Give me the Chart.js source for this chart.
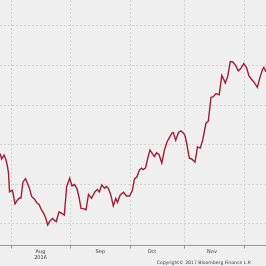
<!DOCTYPE html>
<html>
<head>
<meta charset="utf-8">
<script src="https://cdn.jsdelivr.net/npm/chart.js@4/dist/chart.umd.min.js"></script>
<style>
  html, body { margin: 0; padding: 0; background: #f0f0f0; }
  #wrap { width: 266px; height: 266px; }
</style>
</head>
<body>
<div id="wrap"><canvas id="priceChart" width="266" height="266"></canvas></div>
<script>
// session position along the time axis (chart units) and closing level
const t = [0, 1.7, 4, 6, 7.3, 8.5, 9.5, 11, 12.5, 15, 17.5, 19.5, 21, 23, 25.5, 27.3, 29.3, 31.7, 34.3, 37,
  39, 41.5, 44, 46, 47.7, 50, 52.5, 54.5, 56.3, 59, 61.7, 64.3, 66.7, 69.7, 72, 74.5, 77, 79, 81, 84.3,
  86, 88.5, 91.5, 95, 97.3, 99.3, 101.8, 104.5, 106.5, 108.3, 110.7, 113.3, 115.8, 117.5, 120.2, 123.5, 126.5, 129.5, 132.3, 134.5,
  137, 139.5, 141.5, 143, 145.5, 147.8, 150, 152.5, 154.5, 156.5, 159, 161.8, 164.5, 167, 169, 171.8, 173.3, 175.7, 178.5, 181,
  183.3, 185, 186.7, 189.3, 191.7, 195, 197.5, 200.3, 202.7, 206, 208.3, 211, 213.3, 216, 219.2, 221.8, 223.7, 225.3, 227.7, 230.3,
  232.8, 235.5, 238.3, 240.6, 243.8, 246.5, 249, 251.5, 254.7, 257.3, 260, 262.5, 263.8, 266];
const values = [103.56, 103.28, 103.48, 103.23, 102.95, 102.58, 101.62, 101.67, 101.69, 101.01, 101.21, 101.31, 101.31, 102.12, 102.29, 102.07, 101.82, 101.39, 101.26, 101.06,
  100.98, 100.71, 100.51, 100.25, 99.95, 100.15, 100.28, 100.18, 100.12, 100.61, 100.53, 100.45, 101.89, 102.31, 101.92, 101.99, 101.77, 101.36, 100.78, 100.76,
  100.71, 101.49, 101.30, 101.63, 101.74, 101.62, 101.97, 101.80, 101.89, 101.80, 101.49, 100.91, 101.29, 101.09, 101.46, 101.60, 101.41, 101.41, 101.67, 102.27,
  102.38, 102.73, 102.81, 102.74, 102.82, 103.33, 103.74, 103.54, 103.41, 103.59, 103.51, 103.08, 103.74, 104.14, 104.32, 104.58, 104.62, 104.22, 104.62, 104.70,
  104.60, 104.47, 104.07, 103.32, 103.28, 103.12, 103.89, 103.83, 104.24, 105.09, 105.19, 106.39, 106.43, 106.58, 106.52, 107.50, 107.31, 107.11, 107.45, 108.20,
  108.18, 108.01, 107.73, 107.83, 108.10, 107.90, 107.47, 107.31, 107.11, 106.90, 107.40, 107.80, 107.90, 107.68];

const monthStarts = [11, 70.7, 130, 184.7, 244.7];   // Aug, Sep, Oct, Nov, Dec
const monthMids = [40.5, 100.3, 152, 212];
const monthLabels = [['Aug', '2016'], 'Sep', 'Oct', 'Nov'];
const yTicks = [100, 102, 104, 106, 108, 110];
const copyright = 'Copyright\u00A9 2017 Bloomberg Finance L.P.';

const gridColor = '#d2d2d2';
const textColor = '#3a3a3a';

const bgPlugin = {
    id: 'bg',
    beforeDraw(chart) {
        const c = chart.ctx;
        c.save();
        c.fillStyle = '#f0f0f0';
        c.fillRect(0, 0, chart.width, chart.height);
        c.restore();
    },
    afterDraw(chart) {
        const c = chart.ctx;
        c.save();
        c.fillStyle = textColor;
        c.font = '4.6px "DejaVu Sans"';
        c.textAlign = 'center';
        c.textBaseline = 'middle';
        c.fillText(copyright, 204, 263);
        c.restore();
    }
};

const isStart = v => monthStarts.includes(v);

new Chart(document.getElementById('priceChart'), {
    type: 'line',
    data: {
        datasets: [{
            data: t.map((x, i) => ({ x: x, y: values[i] })),
            borderColor: '#a31c33',
            borderWidth: 1.4,
            pointRadius: 0,
            tension: 0,
            fill: false
        }]
    },
    plugins: [bgPlugin],
    options: {
        responsive: false,
        animation: false,
        events: [],
        layout: { padding: 0 },
        plugins: { legend: { display: false }, tooltip: { enabled: false } },
        scales: {
            x: {
                type: 'linear',
                min: 0,
                max: 266,
                afterBuildTicks: s => {
                    s.ticks = [...monthStarts, ...monthMids].sort((a, b) => a - b).map(v => ({ value: v }));
                },
                afterFit: s => { s.height = 20.5; },
                grid: {
                    color: ctx => (ctx.tick && isStart(ctx.tick.value)) ? gridColor : 'rgba(0,0,0,0)',
                    tickColor: ctx => (ctx.tick && isStart(ctx.tick.value)) ? '#9a9a9a' : 'rgba(0,0,0,0)',
                    tickLength: 3,
                    lineWidth: 1
                },
                border: { display: true, color: '#9a9a9a', width: 1, dash: [2, 2] },
                ticks: {
                    autoSkip: false,
                    maxRotation: 0,
                    padding: 0,
                    color: textColor,
                    font: { family: 'DejaVu Sans', size: 5, lineHeight: 1.2 },
                    callback: v => {
                        const k = monthMids.indexOf(v);
                        return k >= 0 ? monthLabels[k] : '';
                    }
                }
            },
            y: {
                min: 98.91,
                max: 111.31,
                afterBuildTicks: s => { s.ticks = yTicks.map(v => ({ value: v })); },
                afterFit: s => { s.width = 0; },
                grid: { color: gridColor, drawTicks: false },
                border: { display: false, dash: [2, 2] },
                ticks: { display: false }
            }
        }
    }
});
</script>
</body>
</html>
